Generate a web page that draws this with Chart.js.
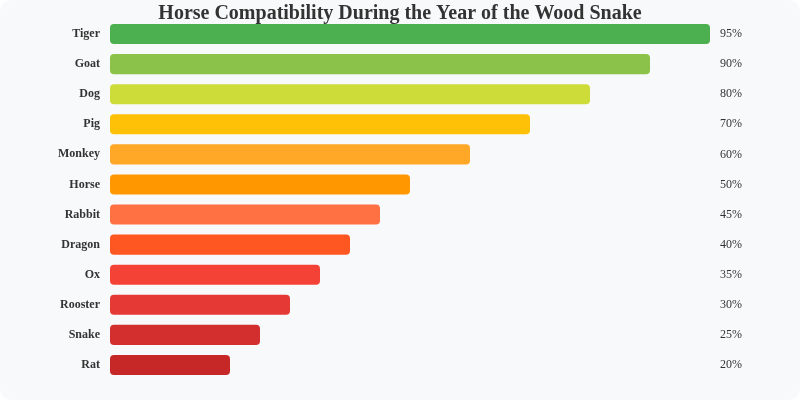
<!DOCTYPE html>
<html>
<head>
<meta charset="utf-8">
<script src="https://cdn.jsdelivr.net/npm/chart.js@4"></script>
<style>
html,body{margin:0;padding:0;background:#ffffff;}
#wrap{width:800px;height:400px;background:#f8f9fa;border-radius:12px;overflow:hidden;position:relative;}
canvas{display:block;}
</style>
</head>
<body>
<div id="wrap"><canvas id="c" width="800" height="400"></canvas></div>
<script>
const categories = ['Tiger','Goat','Dog','Pig','Monkey','Horse','Rabbit','Dragon','Ox','Rooster','Snake','Rat'];
const barValues = [100, 90, 80, 70, 60, 50, 45, 40, 35, 30, 25, 20];
const valueLabels = ['95%','90%','80%','70%','60%','50%','45%','40%','35%','30%','25%','20%'];
const barColors = ['#4caf50','#8bc34a','#cddc39','#ffc107','#ffa726','#ff9800','#ff7043','#ff5722','#f44336','#e53935','#d32f2f','#c62828'];

const serif = '"Liberation Serif", "Times New Roman", serif';

new Chart(document.getElementById('c'), {
  type: 'bar',
  data: {
    labels: categories,
    datasets: [{
      data: barValues,
      backgroundColor: barColors,
      borderRadius: 4,
      borderSkipped: false,
      barPercentage: 0.8,
      categoryPercentage: 0.8333
    }]
  },
  options: {
    indexAxis: 'y',
    responsive: false,
    animation: false,
    layout: { padding: { left: 0, right: 0, top: 0, bottom: 20 } },
    plugins: {
      legend: { display: false },
      tooltip: { enabled: false },
      title: {
        display: true,
        text: 'Horse Compatibility During the Year of the Wood Snake',
        color: '#333333',
        font: { family: serif, size: 20, weight: 'bold', lineHeight: 0.55 },
        padding: { top: 8, bottom: 0 }
      }
    },
    scales: {
      x: { display: false, min: 0, max: 100 },
      y: {
        grid: { display: false, drawTicks: false },
        border: { display: false },
        ticks: {
          color: '#333333',
          padding: 10,
          font: { family: serif, size: 12, weight: 'bold' }
        },
        afterFit(axis) { axis.width = 110; }
      },
      y2: {
        type: 'category',
        labels: valueLabels,
        position: 'right',
        grid: { display: false, drawTicks: false },
        border: { display: false },
        ticks: {
          color: '#333333',
          padding: 10,
          font: { family: serif, size: 12 }
        },
        afterFit(axis) { axis.width = 90; }
      }
    }
  }
});
</script>
</body>
</html>
